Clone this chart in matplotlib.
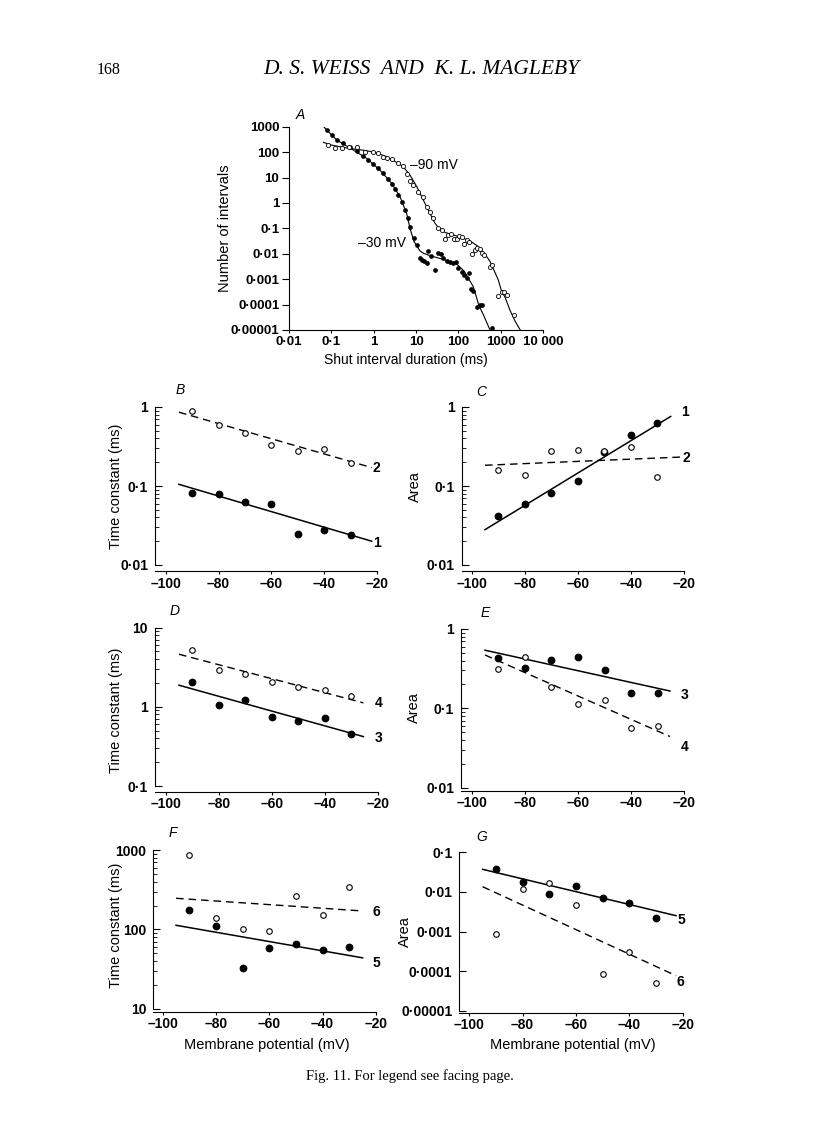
import numpy as np
import matplotlib
matplotlib.use("Agg")
import matplotlib.pyplot as plt
from matplotlib.ticker import FixedLocator, FuncFormatter, NullLocator

# ---------------- Panel A data (shut interval distributions) ----------------
A_fit90_t = [0.065, 0.1, 0.19, 0.4, 0.68, 1.2, 2.0, 3.0, 5.0, 7.2, 10.4, 14.9, 21.4, 28, 37, 50, 76,
             130, 200, 300, 420, 560, 700, 880, 1060, 1260, 1660, 2200, 2900]
A_fit90_n = [242, 190, 154, 128, 114, 92, 66, 46, 26.7, 12.5, 4.4, 1.3, 0.39, 0.16, 0.088, 0.068, 0.055,
             0.041, 0.03, 0.019, 0.01, 0.005, 0.0022, 0.00093, 0.00032, 0.0002, 0.00006, 0.000022, 0.00001]
A_fit30_t = [0.068, 0.134, 0.33, 0.68, 1.41, 2.66, 4.19, 6.0, 7.2, 9.0, 12.4, 15, 21, 30, 44, 65, 91,
             140, 226, 272, 300, 390, 560]
A_fit30_n = [940, 299, 121, 57, 19.7, 5.9, 1.76, 0.39, 0.1, 0.03, 0.013, 0.0105, 0.0085, 0.0072, 0.006,
             0.0049, 0.004, 0.002, 0.0005, 0.00018, 0.0001, 0.00004, 0.00001]
A_open_t = [0.085, 0.122, 0.175, 0.266, 0.40, 0.62, 0.98, 1.3, 1.69, 2.1, 2.66, 3.83, 4.8, 6.0, 7.2, 8.7,
            11.3, 14.9, 17.9, 21, 24.8, 33.6, 40.4, 48.4, 58, 66, 80.5, 91.6, 106, 120, 139, 158, 182,
            207, 248, 281, 325, 356, 404, 560, 625, 881, 1057, 1222, 1390, 2065]
A_open_n = [190, 149, 149, 154, 154, 104, 104, 90, 66, 60, 52, 36, 28, 13.3, 7.5, 5, 2.77, 1.66, 0.67,
            0.45, 0.247, 0.1, 0.086, 0.037, 0.055, 0.06, 0.037, 0.037, 0.05, 0.045, 0.024, 0.035, 0.03,
            0.0098, 0.014, 0.0164, 0.0149, 0.011, 0.0089, 0.0031, 0.0036, 0.00022, 0.00032, 0.0003,
            0.00024, 0.000039]
A_fill_t = [0.078, 0.102, 0.134, 0.19, 0.276, 0.40, 0.57, 0.75, 0.98, 1.29, 1.69, 2.22, 2.66, 3.19,
            3.83, 4.6, 5.5, 6.6, 7.2, 9.0, 10.7, 12.6, 14.0, 15.8, 17.8, 19.5, 22.2, 28.1, 33.7, 38.3,
            44.3, 53, 63.5, 73.6, 88, 100, 120, 136, 157, 182, 196, 219, 272, 325, 369, 614]
A_fill_n = [740, 470, 299, 221, 163, 114, 70, 49, 34, 23, 14.6, 8.5, 5.5, 3.4, 2.05, 1.12, 0.53, 0.25,
            0.116, 0.04, 0.022, 0.0066, 0.0059, 0.0052, 0.0045, 0.013, 0.0081, 0.0024, 0.011, 0.0098,
            0.0066, 0.0054, 0.0049, 0.0042, 0.0046, 0.0027, 0.002, 0.00146, 0.00108, 0.0017, 0.00041,
            0.00035, 0.0000782, 0.0000966, 0.0000966, 0.0000117]
A_xticks = [0.01, 0.1, 1, 10, 100, 1000, 10000]
A_yticks = [0.00001, 0.0001, 0.001, 0.01, 0.1, 1, 10, 100, 1000]

# ---------------- Panels B-G data (vs membrane potential) ----------------
V = [-90, -80, -70, -60, -50, -40, -30]
V_ticks = [-100, -80, -60, -40, -20]

B_tau1 = [0.082, 0.079, 0.062, 0.060, 0.025, 0.028, 0.024]
B_tau2 = [0.89, 0.59, 0.47, 0.33, 0.275, 0.29, 0.196]
B_fit_v = [-95, -22]
B_fit1 = [0.105, 0.020]
B_fit2 = [0.86, 0.171]

C_area1 = [0.042, 0.060, 0.082, 0.116, 0.27, 0.44, 0.62]
C_area2 = [0.161, 0.137, 0.275, 0.284, 0.28, 0.31, 0.129]
C_fit1_v = [-95, -25]
C_fit1 = [0.028, 0.76]
C_fit2_v = [-95, -20.5]
C_fit2 = [0.183, 0.233]

D_tau3 = [2.08, 1.05, 1.2, 0.736, 0.656, 0.72, 0.458]
D_tau4 = [5.2, 2.9, 2.58, 2.06, 1.78, 1.63, 1.36]
D_fit_v = [-95, -25.5]
D_fit3 = [1.87, 0.42]
D_fit4 = [4.6, 1.12]

E_area3 = [0.43, 0.32, 0.41, 0.44, 0.30, 0.158, 0.154]
E_area4 = [0.31, 0.44, 0.185, 0.113, 0.126, 0.056, 0.059]
E_fit_v = [-95, -25.4]
E_fit3 = [0.54, 0.165]
E_fit4 = [0.47, 0.044]

F_tau5 = [174, 110, 33, 58, 66, 55, 61]
F_tau6 = [857, 138, 100, 97, 261, 151, 346]
F_fit_v = [-95, -25]
F_fit5 = [113, 44]
F_fit6 = [247, 171]

G_area5 = [0.037, 0.0173, 0.0088, 0.0137, 0.0071, 0.0052, 0.00214]
G_area6 = [0.00085, 0.0117, 0.0169, 0.0046, 0.000087, 0.000305, 0.0000497]
G_fit_v = [-95, -22.5]
G_fit5 = [0.0367, 0.0025]
G_fit6 = [0.0134, 0.0000774]

# ---------------- figure ----------------
W, H = 816, 1141
SANS = ["Liberation Sans", "DejaVu Sans"]
SERIF = ["Liberation Serif", "DejaVu Serif"]
plt.rcParams["font.family"] = SANS
plt.rcParams["axes.linewidth"] = 0.8

fig = plt.figure(figsize=(W / 100, H / 100), dpi=100)


def add_axes_px(left, right, top, bottom):
    return fig.add_axes([left / W, 1 - bottom / H, (right - left) / W, (bottom - top) / H])


def ftext(px, py, s, **kw):
    fig.text(px / W, 1 - py / H, s, **kw)


def num_fmt(v, pos=None):
    if abs(v) >= 10000:
        s = f"{int(round(v)):,}".replace(",", " ")
    else:
        s = np.format_float_positional(v, trim="-")
    return s.replace(".", "\u00b7").replace("-", "\u2013")


def decades(lo, hi):
    e0, e1 = int(round(np.log10(lo))), int(round(np.log10(hi)))
    return [10.0 ** e for e in range(e0, e1 + 1)]


def log_minors(lo, hi):
    out = []
    for e in range(int(np.floor(np.log10(lo))), int(np.ceil(np.log10(hi)))):
        for m in range(2, 10):
            v = m * 10.0 ** e
            if lo < v < hi:
                out.append(v)
    return out


TICK_FS = 10
TICK_FS_A = 9.5
LBL_FS = 10.5
TICK_WEIGHT = "bold"

# ---------------- Panel A ----------------
axA = add_axes_px(289, 543, 126.7, 330)
axA.set_xscale("log")
axA.set_yscale("log")
axA.set_xlim(A_xticks[0], A_xticks[-1])
axA.set_ylim(A_yticks[0], A_yticks[-1])
for s in ("top", "right"):
    axA.spines[s].set_visible(False)
axA.xaxis.set_major_locator(FixedLocator(A_xticks))
axA.yaxis.set_major_locator(FixedLocator(A_yticks))
axA.xaxis.set_minor_locator(NullLocator())
axA.yaxis.set_minor_locator(NullLocator())
axA.xaxis.set_major_formatter(FuncFormatter(num_fmt))
axA.yaxis.set_major_formatter(FuncFormatter(num_fmt))
axA.tick_params(axis="y", direction="out", length=5, width=0.8, pad=2, labelsize=TICK_FS_A)
axA.tick_params(axis="x", direction="out", length=2.5, width=0.8, pad=2, labelsize=TICK_FS_A)
for lab in axA.get_xticklabels() + axA.get_yticklabels():
    lab.set_fontweight(TICK_WEIGHT)
axA.plot(A_fit90_t, A_fit90_n, color="k", lw=0.8, zorder=2)
axA.plot(A_fit30_t, A_fit30_n, color="k", lw=0.8, zorder=2)
axA.plot(A_fill_t, A_fill_n, "o", ms=2.8, mfc="k", mec="k", mew=0.5, zorder=3, clip_on=False)
axA.plot(A_open_t, A_open_n, "o", ms=3.0, mfc="white", mec="k", mew=0.6, zorder=4, clip_on=False)
ftext(410, 165, "\u201390 mV", fontsize=10, ha="left", va="center")
ftext(358, 243, "\u201330 mV", fontsize=10, ha="left", va="center")
ftext(225, 228, "Number of intervals", fontsize=10.5, rotation=90, ha="center", va="center")
ftext(406, 360, "Shut interval duration (ms)", fontsize=10, ha="center", va="center")
ftext(300, 115, "A", fontsize=10, style="italic", ha="center", va="center")

# ---------------- Panels B-G ----------------
panels = [
    dict(letter="B", lpos=(180, 390), spine=155, x100=165.7, x20=377, top=407, ybot=565, xaxis=571,
         ylo=0.01, yhi=1, minors=True,
         closed=B_tau1, opened=B_tau2, fvc=B_fit_v, fc=B_fit1, fvo=B_fit_v, fo=B_fit2,
         ylabel="Time constant (ms)", ylpos=(116, 486),
         nums=[("2", 376.7, 468.3), ("1", 376.7, 542.7)]),
    dict(letter="C", lpos=(481, 392), spine=461.7, x100=471.7, x20=684, top=407, ybot=565, xaxis=571,
         ylo=0.01, yhi=1, minors=True,
         closed=C_area1, opened=C_area2, fvc=C_fit1_v, fc=C_fit1, fvo=C_fit2_v, fo=C_fit2,
         ylabel="Area", ylpos=(415, 487),
         nums=[("1", 685, 411.7), ("2", 686, 458.3)]),
    dict(letter="D", lpos=(175, 611), spine=155, x100=165.7, x20=378, top=627.5, ybot=786, xaxis=791.5,
         ylo=0.1, yhi=10, minors=True,
         closed=D_tau3, opened=D_tau4, fvc=D_fit_v, fc=D_fit3, fvo=D_fit_v, fo=D_fit4,
         ylabel="Time constant (ms)", ylpos=(116, 710),
         nums=[("4", 378.3, 703.3), ("3", 378.3, 738.3)]),
    dict(letter="E", lpos=(485, 613), spine=461, x100=471.7, x20=684.3, top=629, ybot=787.5, xaxis=790.5,
         ylo=0.01, yhi=1, minors=True,
         closed=E_area3, opened=E_area4, fvc=E_fit_v, fc=E_fit3, fvo=E_fit_v, fo=E_fit4,
         ylabel="Area", ylpos=(414, 708),
         nums=[("3", 685, 695), ("4", 685, 746.7)]),
    dict(letter="F", lpos=(173, 833), spine=153.3, x100=162.7, x20=376, top=850, ybot=1009, xaxis=1011.5,
         ylo=10, yhi=1000, minors=True,
         closed=F_tau5, opened=F_tau6, fvc=F_fit_v, fc=F_fit5, fvo=F_fit_v, fo=F_fit6,
         ylabel="Time constant (ms)", ylpos=(116, 925),
         nums=[("6", 376, 911.7), ("5", 376, 962.7)]),
    dict(letter="G", lpos=(482, 837), spine=459.3, x100=469.3, x20=682.7, top=852, ybot=1011, xaxis=1012.5,
         ylo=0.00001, yhi=0.1, minors=False,
         closed=G_area5, opened=G_area6, fvc=G_fit_v, fc=G_fit5, fvo=G_fit_v, fo=G_fit6,
         ylabel="Area", ylpos=(404.5, 932),
         nums=[("5", 681.7, 920), ("6", 680, 981.7)]),
]

for p in panels:
    ax = add_axes_px(p["spine"], p["x20"], p["top"], p["xaxis"])
    ax.set_yscale("log")
    ppm = (p["x20"] - p["x100"]) / 80.0
    xl = -100 - (p["x100"] - p["spine"]) / ppm
    ax.set_xlim(xl, -20)
    ppd = (p["ybot"] - p["top"]) / np.log10(p["yhi"] / p["ylo"])
    ax.set_ylim(p["ylo"] / 10 ** ((p["xaxis"] - p["ybot"]) / ppd), p["yhi"])
    for s in ("top", "right"):
        ax.spines[s].set_visible(False)
    ax.spines["left"].set_bounds(p["ylo"], p["yhi"])
    ax.xaxis.set_major_locator(FixedLocator(V_ticks))
    ax.xaxis.set_minor_locator(NullLocator())
    ax.yaxis.set_major_locator(FixedLocator(decades(p["ylo"], p["yhi"])))
    if p["minors"]:
        ax.yaxis.set_minor_locator(FixedLocator(log_minors(p["ylo"], p["yhi"])))
    else:
        ax.yaxis.set_minor_locator(NullLocator())
    ax.xaxis.set_major_formatter(FuncFormatter(num_fmt))
    ax.yaxis.set_major_formatter(FuncFormatter(num_fmt))
    ax.tick_params(axis="y", which="major", direction="in", length=5, width=0.8, pad=5, labelsize=TICK_FS)
    ax.tick_params(axis="y", which="minor", direction="in", length=3, width=0.6)
    ax.tick_params(axis="x", direction="out", length=2.5, width=0.8, pad=1.5, labelsize=TICK_FS)
    for lab in ax.get_xticklabels() + ax.get_yticklabels():
        lab.set_fontweight(TICK_WEIGHT)

    ax.plot(p["fvc"], p["fc"], color="k", lw=1.1, zorder=2)
    ax.plot(p["fvo"], p["fo"], color="k", lw=1.0, ls=(0, (5.5, 3.5)), zorder=2)
    ax.plot(V, p["closed"], "o", ms=4.6, mfc="k", mec="k", zorder=3, clip_on=False)
    ax.plot(V, p["opened"], "o", ms=4.0, mfc="white", mec="k", mew=0.8, zorder=4, clip_on=False)

    ftext(p["lpos"][0], p["lpos"][1], p["letter"], fontsize=10, style="italic", ha="center", va="center")
    ftext(p["ylpos"][0], p["ylpos"][1], p["ylabel"], fontsize=LBL_FS, rotation=90, ha="center", va="center")
    for txt, px, py in p["nums"]:
        ftext(px, py, txt, fontsize=10, fontweight="bold", ha="center", va="center")

ftext(267, 1045, "Membrane potential (mV)", fontsize=LBL_FS, ha="center", va="center")
ftext(573, 1045, "Membrane potential (mV)", fontsize=LBL_FS, ha="center", va="center")

# ---------------- page header and caption ----------------
ftext(97, 70, "168", family=SERIF, fontsize=11.5, ha="left", va="center")
ftext(421, 70, "D. S. WEISS  AND  K. L. MAGLEBY", family=SERIF, style="italic", fontsize=15.5,
      ha="center", va="center")
ftext(410, 1076, "Fig. 11. For legend see facing page.", family=SERIF, fontsize=10.5, ha="center", va="center")

fig.savefig("out.png", dpi=100)
